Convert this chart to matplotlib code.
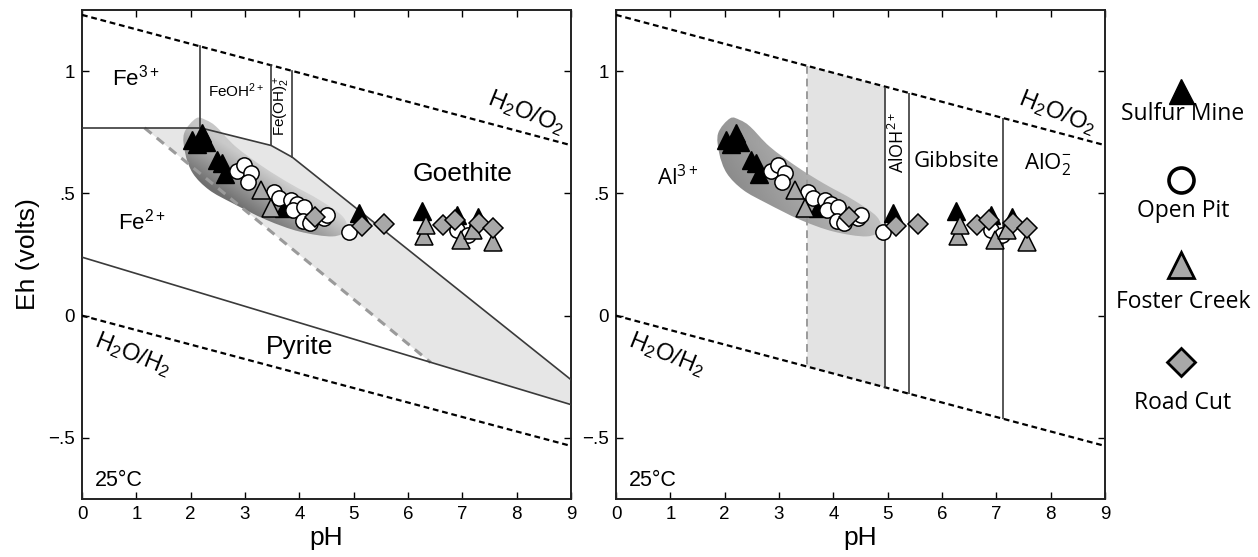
import numpy as np
import matplotlib
matplotlib.use('Agg')
import matplotlib.pyplot as plt
from matplotlib.path import Path
from matplotlib.patches import PathPatch, Polygon

plt.rcParams['font.family'] = ['Liberation Sans', 'DejaVu Sans']
plt.rcParams['mathtext.fontset'] = 'custom'
plt.rcParams['mathtext.rm'] = 'Liberation Sans'
plt.rcParams['mathtext.it'] = 'Liberation Sans:italic'
plt.rcParams['mathtext.bf'] = 'Liberation Sans:bold'

# ---------------- data ----------------
sulfur_ph = [2.03, 2.20, 2.28, 2.12, 2.48, 2.57, 2.63, 3.72, 5.10, 6.25, 6.90, 7.28]
sulfur_eh = [0.718, 0.748, 0.712, 0.700, 0.637, 0.623, 0.578, 0.440, 0.419, 0.428, 0.410, 0.405]

open_ph = [2.85, 2.99, 3.11, 3.05, 3.54, 3.63, 3.85, 3.95, 3.88, 4.09, 4.06, 4.20, 4.46, 4.50, 4.92, 6.90, 7.10]
open_eh = [0.590, 0.616, 0.582, 0.548, 0.507, 0.480, 0.473, 0.455, 0.433, 0.446, 0.385, 0.380, 0.399, 0.410, 0.344, 0.350, 0.330]

foster_ph = [3.29, 3.48, 6.30, 6.33, 6.98, 7.19, 7.56]
foster_eh = [0.514, 0.440, 0.324, 0.371, 0.310, 0.351, 0.303]

road_ph = [4.28, 5.16, 5.56, 6.65, 6.86, 7.30, 7.57]
road_eh = [0.405, 0.366, 0.374, 0.371, 0.393, 0.378, 0.358]

# water stability limits
water_ph = [0, 9]
o2_eh = [1.23, 0.697]
h2_eh = [0.0, -0.533]

# Fe diagram boundaries
fe3_fe2_ph, fe3_fe2_eh = [0, 2.18], [0.768, 0.768]
fe2_upper_ph, fe2_upper_eh = [2.18, 3.48, 3.87, 9.0], [0.768, 0.696, 0.648, -0.262]
fe3_feoh_ph, fe3_feoh_eh = [2.18, 2.18], [0.768, 1.101]
feoh_feoh2_ph, feoh_feoh2_eh = [3.48, 3.48], [0.696, 1.024]
feoh2_goe_ph, feoh2_goe_eh = [3.87, 3.87], [0.648, 1.001]
pyrite_ph, pyrite_eh = [0, 9], [0.239, -0.364]
schw_ph, schw_eh = [1.15, 6.42], [0.768, -0.192]
schw_region_ph = [1.15, 2.18, 3.48, 3.87, 9.0, 9.0, 6.42]
schw_region_eh = [0.768, 0.768, 0.696, 0.648, -0.262, -0.364, -0.192]

# Al diagram boundaries
al_dash_ph, al_dash_eh = [3.52, 3.52], [1.022, -0.208]
al_region_ph = [3.52, 4.96, 4.96, 3.52]
al_region_eh = [1.022, 0.936, -0.294, -0.208]
al_lines_ph = [4.96, 5.40, 7.13]
al_lines_top = [0.936, 0.910, 0.808]
al_lines_bot = [-0.294, -0.320, -0.422]

# sample field outline
blob_ph = [2.10, 2.28, 2.47, 2.83, 3.33, 3.82, 4.37, 4.80, 4.86, 4.61, 4.00, 3.39, 2.77, 2.34, 2.04, 1.90, 1.88]
blob_eh = [0.807, 0.800, 0.773, 0.691, 0.609, 0.541, 0.473, 0.405, 0.351, 0.324, 0.344, 0.392, 0.460, 0.514, 0.582, 0.664, 0.746]

legend_names = ['Sulfur Mine', 'Open Pit', 'Foster Creek', 'Road Cut']

# ---------------- figure ----------------
fig = plt.figure(figsize=(12.58, 5.57), dpi=100)
axL = fig.add_axes([82 / 1258, 58 / 557, 489 / 1258, 489 / 557])
axR = fig.add_axes([616 / 1258, 58 / 557, 489 / 1258, 489 / 557])


def smooth_closed(xs, ys):
    """Closed Catmull-Rom curve through the outline points (as cubic Beziers)."""
    p = np.column_stack([xs, ys]).astype(float)
    n = len(p)
    verts = [p[0]]
    codes = [Path.MOVETO]
    for i in range(n):
        p0, p1, p2, p3 = p[i - 1], p[i], p[(i + 1) % n], p[(i + 2) % n]
        verts += [p1 + (p2 - p0) / 6.0, p2 - (p3 - p1) / 6.0, p2]
        codes += [Path.CURVE4] * 3
    return Path(verts, codes)


blob_path = smooth_closed(blob_ph, blob_eh)

dash_k = (0, (2.6, 1.7))
line_c = '#3a3a3a'

for ax, mode in ((axL, 'fe'), (axR, 'al')):
    ax.plot(water_ph, o2_eh, color='black', lw=1.6, ls=dash_k, zorder=3)
    ax.plot(water_ph, h2_eh, color='black', lw=1.6, ls=dash_k, zorder=3)

    # gradient-filled sample field
    patch = PathPatch(blob_path, facecolor='none', edgecolor='none', transform=ax.transData)
    ax.add_patch(patch)
    gx = np.linspace(1.7, 5.2, 300)
    gy = np.linspace(0.25, 0.86, 300)
    GX, GY = np.meshgrid(gx, gy)
    ux, uy = 0.847, -0.532
    s = (GX - 3.0) * 54.3 * (-uy) + (GY - 0.47) * 245 * ux
    t = (GX - 2.0) * 54.3 * ux + (GY - 0.75) * 245 * uy
    if mode == 'fe':
        g = 0.42 + 0.36 * np.clip((s + 8) / 45, 0, 1) + 0.05 * np.clip(t / 180, 0, 1)
    else:
        g = 0.52 + 0.08 * np.clip((s + 8) / 45, 0, 1) + 0.16 * np.clip(t / 180, 0, 1)
    im = ax.imshow(g, cmap='gray', vmin=0, vmax=1, extent=[1.7, 5.2, 0.25, 0.86],
                   origin='lower', aspect='auto', zorder=2, interpolation='bilinear')
    im.set_clip_path(patch)

    if mode == 'fe':
        ax.add_patch(Polygon(np.column_stack([schw_region_ph, schw_region_eh]), closed=True,
                             facecolor='#e6e6e6', edgecolor='none', zorder=1))
        ax.plot(schw_ph, schw_eh, color='#9a9a9a', lw=2.2, ls=(0, (3, 2.2)), zorder=3)
        for xs, ys in ((fe3_fe2_ph, fe3_fe2_eh), (fe2_upper_ph, fe2_upper_eh),
                       (fe3_feoh_ph, fe3_feoh_eh), (feoh_feoh2_ph, feoh_feoh2_eh),
                       (feoh2_goe_ph, feoh2_goe_eh), (pyrite_ph, pyrite_eh)):
            ax.plot(xs, ys, color=line_c, lw=1.2, zorder=3)
    else:
        ax.add_patch(Polygon(np.column_stack([al_region_ph, al_region_eh]), closed=True,
                             facecolor='#e3e3e3', edgecolor='none', zorder=1))
        ax.plot(al_dash_ph, al_dash_eh, color='#9a9a9a', lw=1.4, ls=(0, (4, 2.5)), zorder=3)
        ax.vlines(al_lines_ph, al_lines_bot, al_lines_top, color=line_c, lw=1.2, zorder=3)

    # samples
    ax.plot(sulfur_ph, sulfur_eh, ls='none', marker='^', ms=13, mfc='black', mec='black', mew=1.0, zorder=4)
    ax.plot(open_ph, open_eh, ls='none', marker='o', ms=11, mfc='white', mec='black', mew=1.1, zorder=4)
    ax.plot(foster_ph, foster_eh, ls='none', marker='^', ms=13, mfc='#a8a8a8', mec='black', mew=1.1, zorder=4)
    ax.plot(road_ph, road_eh, ls='none', marker='D', ms=10, mfc='#a8a8a8', mec='black', mew=1.1, zorder=4)

    ax.set_xlim(0, 9)
    ax.set_ylim(-0.75, 1.25)
    ax.set_xticks(range(10))
    ax.set_yticks([-0.5, 0, 0.5, 1])
    ax.set_yticklabels(['\u2212.5', '0', '.5', '1'])
    ax.tick_params(direction='in', top=True, right=True, length=5, width=1.0,
                   labelsize=13.5, colors='black', pad=5)
    for sp in ax.spines.values():
        sp.set_linewidth(1.4)
        sp.set_color('#222222')
    ax.set_xlabel('pH', fontsize=19, labelpad=2)

    ax.text(8.17 if mode == 'fe' else 8.13, 0.83, r'H$_2$O/O$_2$', fontsize=17, rotation=-22,
            ha='center', va='center', zorder=5)
    ax.text(0.93, -0.16, r'H$_2$O/H$_2$', fontsize=17, rotation=-22, ha='center', va='center', zorder=5)
    ax.text(0.68, -0.675, '25°C', fontsize=15.5, ha='center', va='center', zorder=5)

axL.set_ylabel('Eh (volts)', fontsize=19, labelpad=6)

# Fe labels
axL.text(1.0, 0.975, r'Fe$^{3+}$', fontsize=16, ha='center', va='center', zorder=5)
axL.text(2.83, 0.92, r'FeOH$^{2+}$', fontsize=11, ha='center', va='center', zorder=5)
axL.text(3.69, 0.86, r'Fe(OH)$_2^+$', fontsize=11, rotation=90, ha='center', va='center', zorder=5)
axL.text(7.0, 0.58, 'Goethite', fontsize=19, ha='center', va='center', zorder=5)
axL.text(1.11, 0.385, r'Fe$^{2+}$', fontsize=16, ha='center', va='center', zorder=5)
axL.text(4.0, -0.13, 'Pyrite', fontsize=19, ha='center', va='center', zorder=5)

# Al labels
fam2 = ['Open Sans', 'DejaVu Sans']
axR.text(1.14, 0.565, r'Al$^{\mathregular{3+}}$', fontsize=16, family=fam2, ha='center', va='center', zorder=5)
axR.text(5.19, 0.71, r'AlOH$^{\mathregular{2+}}$', fontsize=13, family=fam2, rotation=90,
         ha='center', va='center', zorder=5)
axR.text(6.27, 0.63, 'Gibbsite', fontsize=16, family=fam2, ha='center', va='center', zorder=5)
axR.text(7.95, 0.62, r'AlO$_{\mathregular{2}}^{\mathregular{-}}$', fontsize=16, family=fam2,
         ha='center', va='center', zorder=5)

# legend column (pixel coordinates)
lg = fig.add_axes([0, 0, 1, 1])
lg.set_xlim(0, 1258)
lg.set_ylim(557, 0)
lg.axis('off')
lg.patch.set_visible(False)
leg_x = 1181
lg.plot([leg_x], [91], marker='^', ms=18, mfc='black', mec='black', ls='none')
lg.plot([leg_x], [180], marker='o', ms=18, mfc='white', mec='black', mew=2.6, ls='none')
lg.plot([leg_x], [265], marker='^', ms=19, mfc='#a8a8a8', mec='black', mew=2.0, ls='none')
lg.plot([leg_x], [362], marker='D', ms=14, mfc='#a8a8a8', mec='black', mew=2.0, ls='none')
for name, yy in zip(legend_names, [114, 211, 302, 403]):
    lg.text(leg_x + 2, yy, name, fontsize=16.5, family=fam2, ha='center', va='center')

fig.savefig('out.png', dpi=100)
